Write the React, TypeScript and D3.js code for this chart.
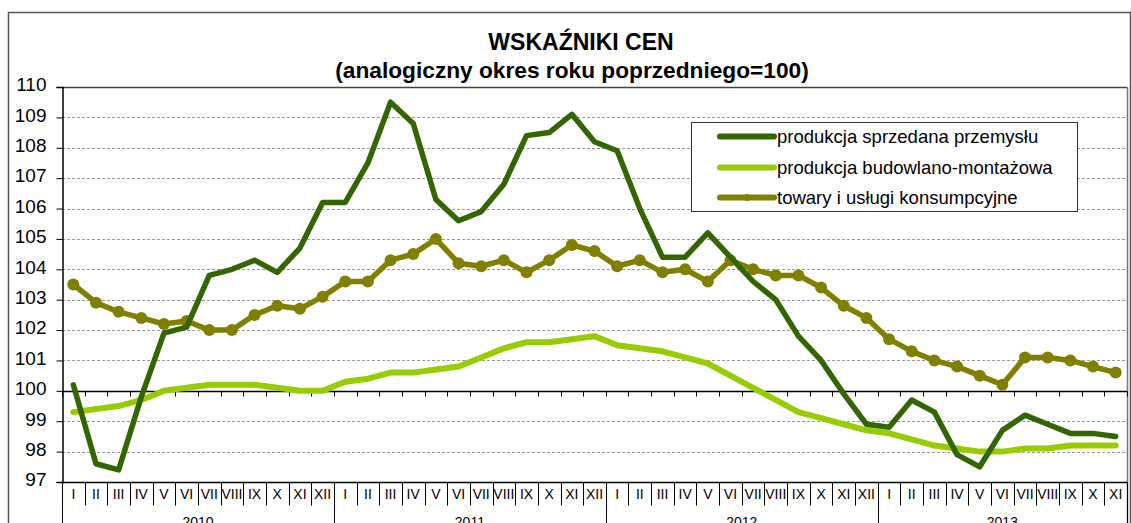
import React, { useEffect, useRef } from "react";
import * as d3 from "d3";

const months = ["I","II","III","IV","V","VI","VII","VIII","IX","X","XI","XII"];
const years = ["2010", "2011", "2012", "2013"];
const monthsInYear = [12, 12, 12, 11];

const przemysl = [
  100.2, 97.6, 97.4, 99.8, 101.9, 102.1, 103.8, 104.0, 104.3, 103.9, 104.7, 106.2,
  106.2, 107.5, 109.5, 108.8, 106.3, 105.6, 105.9, 106.8, 108.4, 108.5, 109.1, 108.2,
  107.9, 106.0, 104.4, 104.4, 105.2, 104.4, 103.6, 103.0, 101.8, 101.0, 99.9, 98.9,
  98.8, 99.7, 99.3, 97.9, 97.5, 98.7, 99.2, 98.9, 98.6, 98.6, 98.5,
];
const budowlana = [
  99.3, 99.4, 99.5, 99.7, 100.0, 100.1, 100.2, 100.2, 100.2, 100.1, 100.0, 100.0,
  100.3, 100.4, 100.6, 100.6, 100.7, 100.8, 101.1, 101.4, 101.6, 101.6, 101.7, 101.8,
  101.5, 101.4, 101.3, 101.1, 100.9, 100.5, 100.1, 99.7, 99.3, 99.1, 98.9, 98.7,
  98.6, 98.4, 98.2, 98.1, 98.0, 98.0, 98.1, 98.1, 98.2, 98.2, 98.2,
];
const konsumpcyjne = [
  103.5, 102.9, 102.6, 102.4, 102.2, 102.3, 102.0, 102.0, 102.5, 102.8, 102.7, 103.1,
  103.6, 103.6, 104.3, 104.5, 105.0, 104.2, 104.1, 104.3, 103.9, 104.3, 104.8, 104.6,
  104.1, 104.3, 103.9, 104.0, 103.6, 104.3, 104.0, 103.8, 103.8, 103.4, 102.8, 102.4,
  101.7, 101.3, 101.0, 100.8, 100.5, 100.2, 101.1, 101.1, 101.0, 100.8, 100.6,
];
const yTicks = [97, 98, 99, 100, 101, 102, 103, 104, 105, 106, 107, 108, 109, 110];

const seriesNames = [
  "produkcja sprzedana przemysłu",
  "produkcja budowlano-montażowa",
  "towary i usługi konsumpcyjne",
];
const colors = ["#336600", "#99CC00", "#808000"];

export default function App() {
  const ref = useRef<SVGSVGElement>(null);

  useEffect(() => {
    const svg = d3.select(ref.current);
    svg.selectAll("*").remove();
    const W = 1131, H = 523;
    const left = 62, right = 1127, top = 87, bottom = 482;
    const font = "Liberation Sans, Arial, sans-serif";

    const cats: string[] = [];
    monthsInYear.forEach((n, yi) => {
      for (let m = 0; m < n; m++) cats.push(years[yi] + "-" + months[m]);
    });
    const x = d3.scaleBand<string>().domain(cats).range([left, right]).padding(0);
    const cx = (i: number) => (x(cats[i]) as number) + x.bandwidth() / 2;
    const bx = (i: number) => left + i * x.bandwidth();
    const y = d3.scaleLinear().domain([97, 110]).range([bottom, top]);

    svg.append("rect").attr("x", 0).attr("y", 0).attr("width", W).attr("height", H).attr("fill", "#fff");
    svg.append("rect").attr("x", 8.5).attr("y", 12.5).attr("width", 1122).attr("height", 520)
      .attr("fill", "none").attr("stroke", "#555").attr("stroke-width", 1.5);

    // title
    svg.append("text").attr("x", 581).attr("y", 50).attr("text-anchor", "middle")
      .attr("font-family", font).attr("font-weight", "bold").attr("font-size", 23)
      .text("WSKAŹNIKI CEN");
    svg.append("text").attr("x", 572).attr("y", 78).attr("text-anchor", "middle")
      .attr("font-family", font).attr("font-weight", "bold").attr("font-size", 22.7)
      .text("(analogiczny okres roku poprzedniego=100)");

    // gridlines
    svg.append("g").selectAll("line").data(yTicks.filter(t => t !== 97 && t !== 100 && t !== 110))
      .join("line")
      .attr("x1", left).attr("x2", right)
      .attr("y1", d => Math.round(y(d)) + 0.5).attr("y2", d => Math.round(y(d)) + 0.5)
      .attr("stroke", "#999").attr("stroke-width", 1).attr("stroke-dasharray", "3,2");

    svg.append("line").attr("x1", left).attr("x2", right).attr("y1", top + 0.5).attr("y2", top + 0.5)
      .attr("stroke", "#444").attr("stroke-width", 1.5);
    svg.append("line").attr("x1", right + 0.5).attr("x2", right + 0.5).attr("y1", top).attr("y2", H)
      .attr("stroke", "#777").attr("stroke-width", 1.5);

    // y axis
    const yAxis = d3.axisLeft(y).tickValues(yTicks).tickSize(6).tickFormat(d3.format("d"));
    const ya = svg.append("g").attr("transform", `translate(${left + 0.5},0)`).call(yAxis);
    ya.select(".domain").attr("stroke", "#000").attr("stroke-width", 1.5);
    ya.selectAll(".tick line").attr("stroke", "#000");
    ya.selectAll(".tick text").attr("font-family", font).attr("font-size", 19).attr("fill", "#000")
      .attr("x", -16).attr("dy", "0.2em");

    // category axis at 100
    const y100 = Math.round(y(100)) + 0.5;
    svg.append("line").attr("x1", left).attr("x2", right).attr("y1", y100).attr("y2", y100)
      .attr("stroke", "#000").attr("stroke-width", 1.5);
    svg.append("g").selectAll("line").data(d3.range(cats.length + 1)).join("line")
      .attr("x1", i => Math.round(bx(i)) + 0.5).attr("x2", i => Math.round(bx(i)) + 0.5)
      .attr("y1", y100).attr("y2", y100 + 5).attr("stroke", "#000");

    // bottom label area
    const yb = Math.round(y(97)) + 0.5;
    svg.append("line").attr("x1", left).attr("x2", right).attr("y1", yb).attr("y2", yb)
      .attr("stroke", "#000").attr("stroke-width", 1.5);
    const yearStarts: number[] = [0];
    monthsInYear.forEach((n, i) => yearStarts.push(yearStarts[i] + n));
    svg.append("g").selectAll("line").data(d3.range(cats.length + 1)).join("line")
      .attr("x1", i => Math.round(bx(i)) + 0.5).attr("x2", i => Math.round(bx(i)) + 0.5)
      .attr("y1", yb).attr("y2", i => (yearStarts.includes(i) ? H : yb + 23))
      .attr("stroke", "#000");
    svg.append("g").selectAll("text").data(cats).join("text")
      .attr("x", (d, i) => cx(i)).attr("y", yb + 16.5).attr("text-anchor", "middle")
      .attr("font-family", font).attr("font-size", 14).text(d => d.split("-")[1]);
    svg.append("g").selectAll("text").data(years).join("text")
      .attr("x", (d, i) => (bx(yearStarts[i]) + bx(yearStarts[i + 1])) / 2)
      .attr("y", 527).attr("text-anchor", "middle")
      .attr("font-family", font).attr("font-size", 14).text(d => d);

    // lines
    const line = d3.line<number>().x((d, i) => cx(i)).y(d => y(d));
    const all = [przemysl, budowlana, konsumpcyjne];
    [1, 2, 0].forEach(si => {
      svg.append("path").attr("d", line(all[si]) as string).attr("fill", "none")
        .attr("stroke", colors[si]).attr("stroke-width", si === 1 ? 6 : 5.5)
        .attr("stroke-linejoin", "round").attr("stroke-linecap", "round");
      if (si === 2) {
        svg.append("g").selectAll("circle").data(all[si]).join("circle")
          .attr("cx", (d, i) => cx(i)).attr("cy", d => y(d)).attr("r", 6)
          .attr("fill", colors[si]);
      }
    });

    // legend
    const lg = svg.append("g");
    lg.append("rect").attr("x", 691.5).attr("y", 122.5).attr("width", 386).attr("height", 89)
      .attr("fill", "#fff").attr("stroke", "#333").attr("stroke-width", 1);
    const ly = [136.5, 167.5, 197.5];
    seriesNames.forEach((name, i) => {
      lg.append("line").attr("x1", 720).attr("x2", 774).attr("y1", ly[i]).attr("y2", ly[i])
        .attr("stroke", colors[i]).attr("stroke-width", 6).attr("stroke-linecap", "round");
      if (i === 2) {
        lg.append("circle").attr("cx", 747).attr("cy", ly[i]).attr("r", 3.5).attr("fill", colors[i]);
      }
      lg.append("text").attr("x", 777).attr("y", ly[i] + 6.5).attr("font-family", font)
        .attr("font-size", 18.5).text(name);
    });
  }, []);

  return (
    <svg ref={ref} width={1131} height={523}
      style={{ position: "absolute", left: 0, top: 0, display: "block" }} />
  );
}
